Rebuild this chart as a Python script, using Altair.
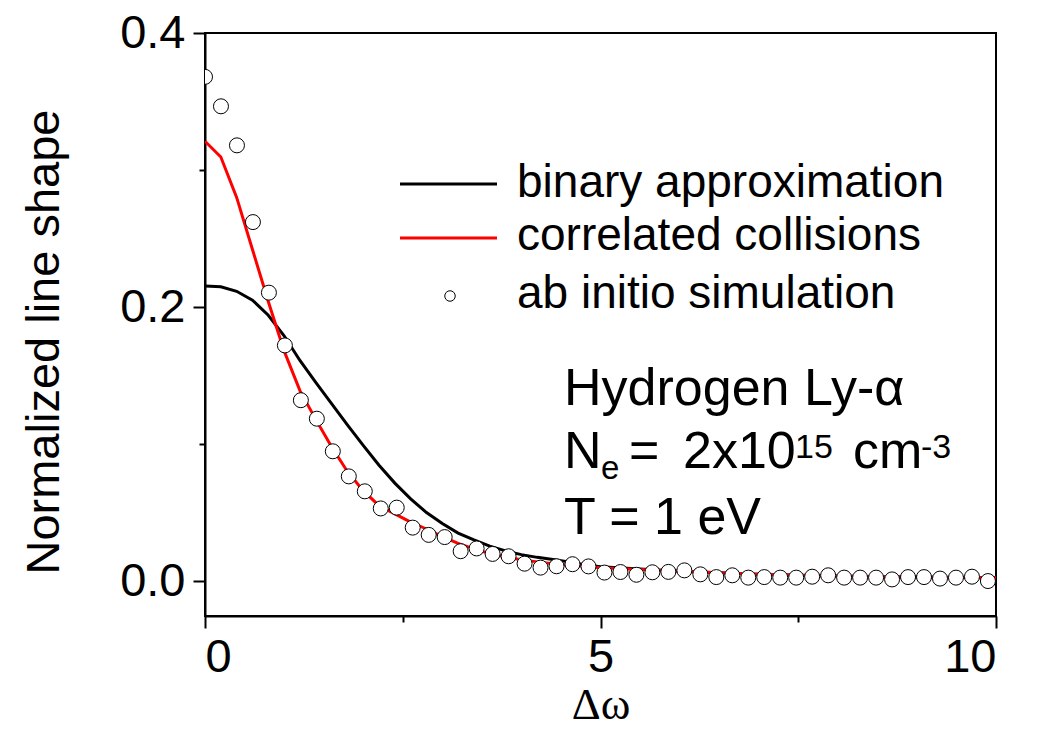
import altair as alt
import pandas as pd

# ---- data ----
sim_x = [0.000, 0.202, 0.404, 0.606, 0.808, 1.010, 1.212, 1.414, 1.616, 1.818,
         2.020, 2.222, 2.424, 2.626, 2.828, 3.030, 3.232, 3.434, 3.636, 3.838,
         4.040, 4.242, 4.444, 4.646, 4.848, 5.050, 5.252, 5.454, 5.656, 5.858,
         6.060, 6.262, 6.464, 6.666, 6.868, 7.070, 7.272, 7.474, 7.676, 7.878,
         8.080, 8.282, 8.484, 8.686, 8.888, 9.090, 9.292, 9.494, 9.696, 9.898]
sim_y = [0.368, 0.3465, 0.318, 0.262, 0.2105, 0.172, 0.132, 0.1185, 0.0947, 0.0764,
         0.0655, 0.053, 0.0536, 0.039, 0.0337, 0.0321, 0.0218, 0.0238, 0.0198, 0.0181,
         0.0127, 0.0098, 0.0108, 0.0123, 0.0107, 0.0062, 0.0066, 0.0046, 0.0064, 0.0067,
         0.0078, 0.0049, 0.0029, 0.0042, 0.0025, 0.0029, 0.0025, 0.0025, 0.0032, 0.0042,
         0.0025, 0.0025, 0.0025, 0.0012, 0.0029, 0.0029, 0.0018, 0.0025, 0.0032, 0.0]

line_x = [0.0, 0.2, 0.4, 0.6, 0.8, 1.0, 1.2, 1.4, 1.6, 1.8,
          2.0, 2.2, 2.4, 2.6, 2.8, 3.0, 3.2, 3.4, 3.6, 3.8,
          4.0, 4.2, 4.4, 4.6, 4.8, 5.0, 5.5, 6.0, 6.5, 7.0,
          7.5, 8.0, 8.5, 9.0, 9.5, 10.0]
binary_y = [0.2153, 0.2148, 0.2115, 0.205, 0.194, 0.179, 0.161, 0.145, 0.1295, 0.114,
            0.099, 0.0845, 0.0715, 0.060, 0.050, 0.042, 0.035, 0.030, 0.0255, 0.022,
            0.0193, 0.0173, 0.0157, 0.0140, 0.0120, 0.0105, 0.0088, 0.0072, 0.0060, 0.0050,
            0.0043, 0.0037, 0.0032, 0.0029, 0.0026, 0.0024]
correlated_y = [0.321, 0.3095, 0.280, 0.242, 0.204, 0.168, 0.139, 0.118, 0.098, 0.080,
                0.066, 0.055, 0.049, 0.043, 0.038, 0.0325, 0.0275, 0.0235, 0.020, 0.0175,
                0.0155, 0.014, 0.0126, 0.0115, 0.0108, 0.0098, 0.0085, 0.0072, 0.0060, 0.0050,
                0.0043, 0.0037, 0.0032, 0.0029, 0.0026, 0.0024]

legend_labels = ["binary approximation", "correlated collisions", "ab initio simulation"]
legend_colors = ["black", "red", "black"]

ann_texts = ["Hydrogen Ly-α", "N", "e", "=", "2x10", "15", "cm", "-3", "T = 1 eV"]

x_ticks = [0, 2.5, 5, 7.5, 10]
y_ticks = [0.0, 0.1, 0.2, 0.3, 0.4]

FONT = "Liberation Sans"
W, H = 791, 583

xscale = alt.Scale(domain=[0, 10], nice=False, zero=False)
yscale = alt.Scale(domain=[-0.0255, 0.4], nice=False, zero=False)

x_axis = alt.Axis(
    values=x_ticks, grid=False,
    domainColor="black", domainWidth=2, tickColor="black", tickWidth=2, labelColor="black",
    labelExpr="datum.value % 5 == 0 ? format(datum.value, 'd') : ''",
    tickSize={"condition": {"test": "datum.value % 5 != 0", "value": 6}, "value": 12},
    labelPadding=6, labelFontSize=47, labelFont=FONT,
    title="Δω", titleFont="Liberation Serif", titleFontSize=45, titleFontWeight="normal",
    titleColor="black",
    titleX=395.5, titleY=102, titleBaseline="alphabetic", titleAlign="center",
)
y_axis = alt.Axis(
    values=y_ticks, grid=False,
    domainColor="black", domainWidth=2, tickColor="black", tickWidth=2, labelColor="black",
    labelExpr="(datum.value == 0.1 || datum.value == 0.3) ? '' : format(datum.value, '.1f')",
    tickSize={"condition": {"test": "datum.value == 0.1 || datum.value == 0.3", "value": 6}, "value": 12},
    labelPadding=8, labelFontSize=47, labelFont=FONT,
    title="Normalized line shape", titleFont=FONT, titleFontSize=47, titleFontWeight="normal",
    titleColor="black",
    titleAngle=270, titleX=-147, titleY=308.5, titleBaseline="alphabetic", titleAlign="center",
)

bin_df = pd.DataFrame({"x": line_x, "y": binary_y})
cor_df = pd.DataFrame({"x": line_x, "y": correlated_y})
sim_df = pd.DataFrame({"x": sim_x, "y": sim_y})

X = alt.X("x:Q", scale=xscale, axis=x_axis)
Y = alt.Y("y:Q", scale=yscale, axis=y_axis)

black_line = alt.Chart(bin_df).mark_line(color="black", strokeWidth=3, clip=True).encode(x=X, y=Y)
red_line = alt.Chart(cor_df).mark_line(color="#ff0000", strokeWidth=3, clip=True).encode(x=X, y=Y)
points = alt.Chart(sim_df).mark_point(
    shape="circle", filled=False, fill="white", stroke="black", strokeWidth=1,
    size=225, opacity=1, clip=True
).encode(x=X, y=Y)

# ---- legend (drawn inside the plot) ----
leg_df = pd.DataFrame({"label": legend_labels, "color": legend_colors})
layers = [black_line, red_line, points]

line_rows = [151, 205]
for i, yy in enumerate(line_rows):
    layers.append(
        alt.Chart(leg_df.iloc[[i]]).mark_rule(color=legend_colors[i], strokeWidth=3).encode(
            x=alt.value(195), x2=alt.value(292), y=alt.value(yy)
        )
    )
layers.append(
    alt.Chart(leg_df.iloc[[2]]).mark_point(
        shape="circle", filled=False, fill="white", stroke="black", strokeWidth=1, size=110, opacity=1
    ).encode(x=alt.value(245), y=alt.value(263))
)
label_rows = [164, 217, 275]
for i, yy in enumerate(label_rows):
    layers.append(
        alt.Chart(leg_df.iloc[[i]]).mark_text(
            font=FONT, fontSize=46, align="left", baseline="alphabetic", color="black"
        ).encode(text="label:N", x=alt.value(312), y=alt.value(yy))
    )

# ---- annotation (x, baseline y, font size for each text piece) ----
ann_layout = [
    (359, 372, 52),
    (359, 435, 52),
    (396, 446, 33),
    (424, 435, 52),
    (478, 435, 52),
    (590, 425, 34),
    (648, 435, 52),
    (716, 425, 34),
    (359, 501, 52),
]
ann_df = pd.DataFrame({"t": ann_texts})
for i, (xx, yy, fs) in enumerate(ann_layout):
    layers.append(
        alt.Chart(ann_df.iloc[[i]]).mark_text(
            font=FONT, fontSize=fs, align="left", baseline="alphabetic", color="black"
        ).encode(text="t:N", x=alt.value(xx), y=alt.value(yy))
    )

chart = alt.layer(*layers).properties(
    width=W, height=H,
    background="white",
    autosize=alt.AutoSizeParams(type="none"),
    padding={"left": 205, "top": 33, "right": 47, "bottom": 114},
).configure_view(
    stroke="black", strokeWidth=2
).configure_axis(
    grid=False, domainColor="black", domainWidth=2, tickColor="black", tickWidth=2,
    labelColor="black", titleColor="black"
)

chart.save("out.html", embed_options={"renderer": "svg", "actions": False})
